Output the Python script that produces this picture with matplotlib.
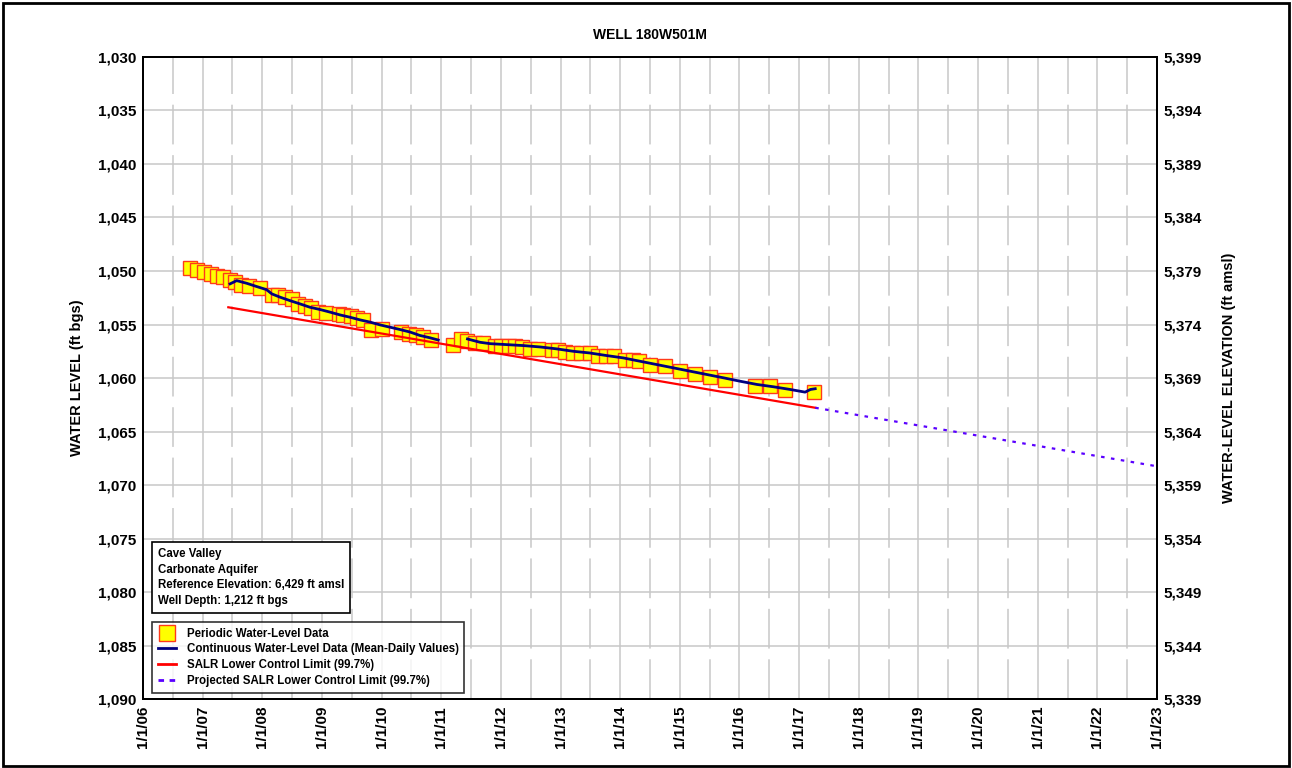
"""
Hydrograph for well 180W501M: periodic and continuous water levels
with the SALR lower control limit and its projection.
"""

import matplotlib
matplotlib.use("Agg")
import matplotlib.pyplot as plt
from matplotlib.lines import Line2D
from matplotlib.patches import Rectangle
from matplotlib.ticker import FixedLocator, FuncFormatter, MultipleLocator

# periodic water-level measurements (decimal year, ft bgs)
periodic_year = [
    2006.78, 2006.90, 2007.03, 2007.14, 2007.24, 2007.34, 2007.46, 2007.54,
    2007.65, 2007.78, 2007.96, 2008.17, 2008.26, 2008.38, 2008.49, 2008.60,
    2008.71, 2008.81, 2008.94, 2009.06, 2009.28, 2009.35, 2009.48, 2009.58,
    2009.69, 2009.83, 2010.01, 2010.33, 2010.46, 2010.58, 2010.70, 2010.82,
    2011.20, 2011.33, 2011.44, 2011.57, 2011.70, 2011.90, 2012.01, 2012.13,
    2012.24, 2012.35, 2012.49, 2012.63, 2012.85, 2012.96, 2013.07, 2013.21,
    2013.35, 2013.50, 2013.63, 2013.76, 2013.89, 2014.08, 2014.22, 2014.32,
    2014.50, 2014.75, 2015.00, 2015.25, 2015.51, 2015.76, 2016.26, 2016.51,
    2016.76, 2017.25,
]
periodic_level = [
    1049.7, 1049.9, 1050.1, 1050.3, 1050.5, 1050.6, 1050.8, 1051.0,
    1051.3, 1051.4, 1051.6, 1052.2, 1052.2, 1052.4, 1052.6, 1053.1,
    1053.3, 1053.5, 1053.8, 1053.9, 1054.0, 1054.1, 1054.2, 1054.4,
    1054.6, 1055.5, 1055.4, 1055.7, 1055.85, 1056.0, 1056.2, 1056.45,
    1056.9, 1056.4, 1056.5, 1056.7, 1056.7, 1057.0, 1057.0, 1057.0,
    1057.0, 1057.1, 1057.25, 1057.25, 1057.35, 1057.4, 1057.55, 1057.65,
    1057.65, 1057.7, 1057.95, 1057.95, 1057.95, 1058.3, 1058.3, 1058.45,
    1058.75, 1058.9, 1059.35, 1059.65, 1059.9, 1060.15, 1060.75, 1060.75,
    1061.15, 1061.3,
]

# continuous record, two segments (gap early 2011)
cont1_year = [
    2007.46, 2007.57, 2007.74, 2007.91, 2008.07, 2008.16, 2008.30, 2008.46,
    2008.63, 2008.80, 2008.97, 2009.14, 2009.30, 2009.47, 2009.64, 2009.81,
    2009.97, 2010.14, 2010.31, 2010.48, 2010.64, 2010.81, 2010.95,
]
cont1_level = [
    1051.2, 1050.9, 1051.15, 1051.46, 1051.74, 1052.14, 1052.45, 1052.76,
    1053.07, 1053.39, 1053.6, 1053.85, 1054.1, 1054.32, 1054.57, 1054.78,
    1055.03, 1055.25, 1055.47, 1055.71, 1056.02, 1056.24, 1056.45,
]
cont2_year = [
    2011.44, 2011.65, 2011.82, 2012.10, 2012.38, 2012.66, 2012.94, 2013.21,
    2013.49, 2013.77, 2014.05, 2014.33, 2014.61, 2014.89, 2015.17, 2015.45,
    2015.73, 2016.01, 2016.29, 2016.57, 2016.85, 2017.01, 2017.10, 2017.19,
    2017.27,
]
cont2_level = [
    1056.35, 1056.66, 1056.79, 1056.88, 1056.97, 1057.1, 1057.28, 1057.5,
    1057.66, 1057.9, 1058.12, 1058.43, 1058.74, 1059.05, 1059.36, 1059.67,
    1059.98, 1060.3, 1060.6, 1060.82, 1061.07, 1061.23, 1061.32, 1061.07,
    1061.0,
]

# SALR lower control limit and its projection
salr_year = [2007.43, 2017.27]
salr_level = [1053.39, 1062.78]
proj_year = [2017.27, 2023.0]
proj_level = [1062.78, 1068.25]

info_lines = [
    "Cave Valley",
    "Carbonate Aquifer",
    "Reference Elevation: 6,429 ft amsl",
    "Well Depth: 1,212 ft bgs",
]
reference_elevation = 6429
depth_ticks = list(range(1030, 1091, 5))


def main():
    plt.rcParams["font.family"] = ["Liberation Sans", "DejaVu Sans"]
    plt.rcParams["font.weight"] = "bold"

    fig = plt.figure(figsize=(12.92, 7.68), dpi=100)
    ax = fig.add_axes([0.1107, 0.0898, 0.7848, 0.836])

    grid_color = "#c8c8c8"
    ax.set_xlim(2006, 2023)
    ax.set_ylim(1090, 1030)
    ax.xaxis.set_major_locator(MultipleLocator(1))
    ax.xaxis.set_minor_locator(MultipleLocator(0.5))
    ax.yaxis.set_major_locator(FixedLocator(depth_ticks))
    ax.xaxis.set_major_formatter(
        FuncFormatter(lambda v, p: "1/1/%02d" % (int(round(v)) % 100)))
    ax.yaxis.set_major_formatter(FuncFormatter(lambda v, p: f"{v:,.0f}"))
    ax.grid(True, which="major", color=grid_color, linewidth=1.1, zorder=0)
    ax.grid(True, which="minor", axis="x", color=grid_color, linewidth=1.1,
            linestyle=(0, (26, 7)), zorder=0)
    ax.set_axisbelow(True)
    ax.tick_params(axis="both", which="both", length=0, labelsize=11, pad=5)
    ax.tick_params(axis="x", labelrotation=90)
    for lab in ax.get_xticklabels() + ax.get_yticklabels():
        lab.set_fontweight("bold")
    for sp in ax.spines.values():
        sp.set_linewidth(1.4)

    ax.plot(periodic_year, periodic_level, linestyle="none", marker="s",
            markersize=9.5, markerfacecolor="#ffff00", markeredgecolor="#ff3a1a",
            markeredgewidth=1.0, zorder=3)
    ax.plot(salr_year, salr_level, color="#ff0000", linewidth=1.6, zorder=4)
    ax.plot(proj_year, proj_level, color="#5a00ff", linewidth=1.6,
            linestyle=(0, (1.6, 2.9)), zorder=4)
    for yr, lv in ((cont1_year, cont1_level), (cont2_year, cont2_level)):
        ax.plot(yr, lv, color="#000080", linewidth=2.0, zorder=5)

    ax.set_ylabel("WATER LEVEL (ft bgs)", fontsize=10.5, fontweight="bold",
                  labelpad=10)
    ax.set_title("WELL 180W501M", fontsize=10, fontweight="bold", pad=13)

    ax2 = ax.twinx()
    ax2.set_ylim(reference_elevation - 1090, reference_elevation - 1030)
    ax2.yaxis.set_major_locator(
        FixedLocator([reference_elevation - d for d in depth_ticks]))
    ax2.yaxis.set_major_formatter(FuncFormatter(lambda v, p: f"{v:,.0f}"))
    ax2.tick_params(axis="y", length=0, labelsize=11, pad=5)
    for lab in ax2.get_yticklabels():
        lab.set_fontweight("bold")
    ax2.set_ylabel("WATER-LEVEL ELEVATION (ft amsl)", fontsize=10.5,
                   fontweight="bold", labelpad=14)
    for sp in ax2.spines.values():
        sp.set_linewidth(1.4)

    ax.text(0.0089 + 0.006, 0.235, "\n".join(info_lines), transform=ax.transAxes,
            fontsize=8.3, fontweight="bold", va="top", ha="left",
            linespacing=1.4, zorder=10,
            bbox=dict(boxstyle="square,pad=0.5", facecolor="white",
                      edgecolor="black", linewidth=1.2))

    handles = [
        Line2D([], [], linestyle="none", marker="s", markersize=12,
               markerfacecolor="#ffff00", markeredgecolor="#ff3a1a"),
        Line2D([], [], color="#000080", linewidth=2),
        Line2D([], [], color="#ff0000", linewidth=2),
        Line2D([], [], color="#5a00ff", linewidth=2, linestyle=(0, (2, 2))),
    ]
    labels = [
        "Periodic Water-Level Data",
        "Continuous Water-Level Data (Mean-Daily Values)",
        "SALR Lower Control Limit (99.7%)",
        "Projected SALR Lower Control Limit (99.7%)",
    ]
    leg = ax.legend(handles, labels, loc="lower left",
                    bbox_to_anchor=(0.0089, 0.0093),
                    prop={"weight": "bold", "size": 8.3}, frameon=True,
                    fancybox=False, borderaxespad=0, handlelength=1.6,
                    handletextpad=0.9, labelspacing=0.34, borderpad=0.5)
    leg.get_frame().set_edgecolor("black")
    leg.get_frame().set_linewidth(1.2)
    leg.set_zorder(10)

    fig.patches.append(Rectangle((0.002, 0.002), 0.996, 0.994,
                                 transform=fig.transFigure, fill=False,
                                 edgecolor="black", linewidth=2))

    fig.savefig("out.png", dpi=100)


if __name__ == "__main__":
    main()
